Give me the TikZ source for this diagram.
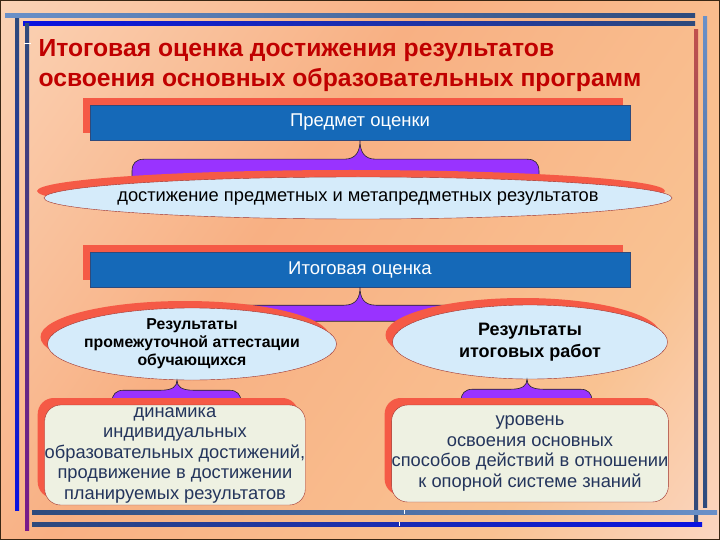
\documentclass[tikz,border=0pt]{standalone}
\usepackage{fontspec}
\setmainfont{Liberation Sans}
\usetikzlibrary{shapes.geometric,shadows}
\definecolor{bgpale}{HTML}{FCE6D2}
\definecolor{bgsalmon}{HTML}{F8B083}
\definecolor{bgorange}{HTML}{F9C292}
\definecolor{bgpink}{HTML}{FDEAF0}
\definecolor{titlered}{HTML}{C00000}
\definecolor{boxblue}{HTML}{1569B8}
\definecolor{navyline}{HTML}{2E4A7C}
\definecolor{steelline}{HTML}{6A90C8}
\definecolor{brightblue}{HTML}{0A12E0}
\definecolor{plumline}{HTML}{7A1A8A}
\definecolor{brickline}{HTML}{C0504D}
\definecolor{shred}{HTML}{F55A46}
\definecolor{ovalfill}{HTML}{D5EBFA}
\definecolor{ovaledge}{HTML}{A0302A}
\definecolor{notefill}{HTML}{EEF1E2}
\definecolor{notetext}{HTML}{24355C}
\definecolor{bracepurple}{HTML}{9933FF}
\pgfdeclarehorizontalshading{bgpeach}{100bp}{color(0bp)=(bgpale); color(42bp)=(bgsalmon); color(70bp)=(bgorange); color(100bp)=(bgpink)}
\tikzset{
  redshadow/.style={general shadow={shadow xshift=-7pt,shadow yshift=7pt,fill=shred}},
  headbox/.style={rectangle,draw=navyline,fill=boxblue,text=white,minimum width=540pt,minimum height=35pt,
    inner sep=0pt,font=\fontsize{18.5}{22}\selectfont,redshadow},
  ovalnode/.style={ellipse,draw=ovaledge,fill=ovalfill,inner xsep=-30pt,inner ysep=-6pt,align=center,redshadow},
  notebox/.style={rectangle,rounded corners=16pt,draw=ovaledge,fill=notefill,text=notetext,inner sep=0pt,
    align=center,font=\fontsize{18.3}{20.5}\selectfont,redshadow},
  bracefill/.style={fill=bracepurple,draw=black!85,line width=0.6pt},
}
% purple brace hanging from a node: tip, left reach, right reach, drop, bottom
\newcommand{\purplebrace}[5]{%
  \begin{scope}[shift={(#1)}]
    \filldraw[bracefill] (0,0) .. controls (0,0.6*#4) and (-4,#4) .. (-16,#4) -- (-#2+12,#4)
      .. controls (-#2+4,#4) and (-#2,#4+4) .. (-#2,#4+12) -- (-#2,#5) -- (#3,#5) -- (#3,#4+12)
      .. controls (#3,#4+4) and (#3-4,#4) .. (#3-12,#4) -- (16,#4)
      .. controls (4,#4) and (0,0.6*#4) .. (0,0) -- cycle;
  \end{scope}}

\begin{document}
\begin{tikzpicture}[x=1pt,y=-1pt]
  \useasboundingbox (0,0) rectangle (720,540);
  \shade[shading=bgpeach,shading angle=-35] (0,0) rectangle (720,540);
  % frame bars
  \shade[left color=steelline,right color=navyline] (5,14) rectangle (695,18);
  \shade[left color=brightblue,right color=navyline] (23,22) rectangle (695,26);
  \shade[top color=navyline,bottom color=brightblue] (15,19) rectangle (19,510);
  \shade[top color=navyline,bottom color=plumline] (25,24) rectangle (29,530);
  \shade[top color=brickline,bottom color=navyline] (694,30) rectangle (698,522);
  \shade[top color=steelline,bottom color=navyline] (703,17) rectangle (707,507);
  \shade[left color=navyline,right color=steelline] (32,510) rectangle (717,514);
  \shade[left color=navyline,right color=brightblue] (32,522) rectangle (702,526);
  \draw[white,line width=0.8pt] (404,510) -- (404,514);
  \draw[white,line width=0.8pt] (399,522) -- (399,526);
  \draw[white,line width=0.8pt] (24,43) -- (31,43);
  \draw[black!70!brown,line width=1pt] (0.5,0.5) rectangle (719.5,539.5);

  \node[anchor=north west,align=left,text=titlered,font=\fontsize{24.7}{30}\bfseries\selectfont] (nTitle) at (35,36)
    {Итоговая оценка достижения результатов\\освоения основных образовательных программ};

  \node[headbox] (nSubj) at (360,122.5) {Предмет оценки};
  \purplebrace{nSubj.south}{228}{179}{19}{45}
  \node[ovalnode,minimum width=628pt,minimum height=42pt,font=\fontsize{18.3}{22}\selectfont] (nAchv) at (358,198)
    {достижение предметных и метапредметных результатов};

  \node[headbox] (nFinal) at (360,269.5) {Итоговая оценка};
  \purplebrace{nFinal.south}{228}{179}{18}{34}
  \node[ovalnode,minimum width=289pt,minimum height=72pt,font=\fontsize{15.8}{18}\bfseries\selectfont] (nMid) at (192,344)
    {Результаты\\промежуточной аттестации\\обучающихся};
  \node[ovalnode,minimum width=275pt,minimum height=74pt,font=\fontsize{18}{22}\bfseries\selectfont] (nWork) at (530,342)
    {Результаты\\итоговых работ};

  \purplebrace{[xshift=-15pt]nMid.south}{65}{64}{10}{30}
  \purplebrace{[xshift=-3pt]nWork.south}{66}{65}{10}{30}
  \node[notebox,minimum width=258pt,minimum height=100pt] (nDyn) at (175,455)
    {динамика\\индивидуальных\\образовательных достижений,\\продвижение в достижении\\планируемых результатов};
  \node[notebox,minimum width=274pt,minimum height=97pt] (nLevel) at (530,453.5)
    {уровень\\освоения основных\\способов действий в отношении\\к опорной системе знаний};
\end{tikzpicture}
\end{document}
